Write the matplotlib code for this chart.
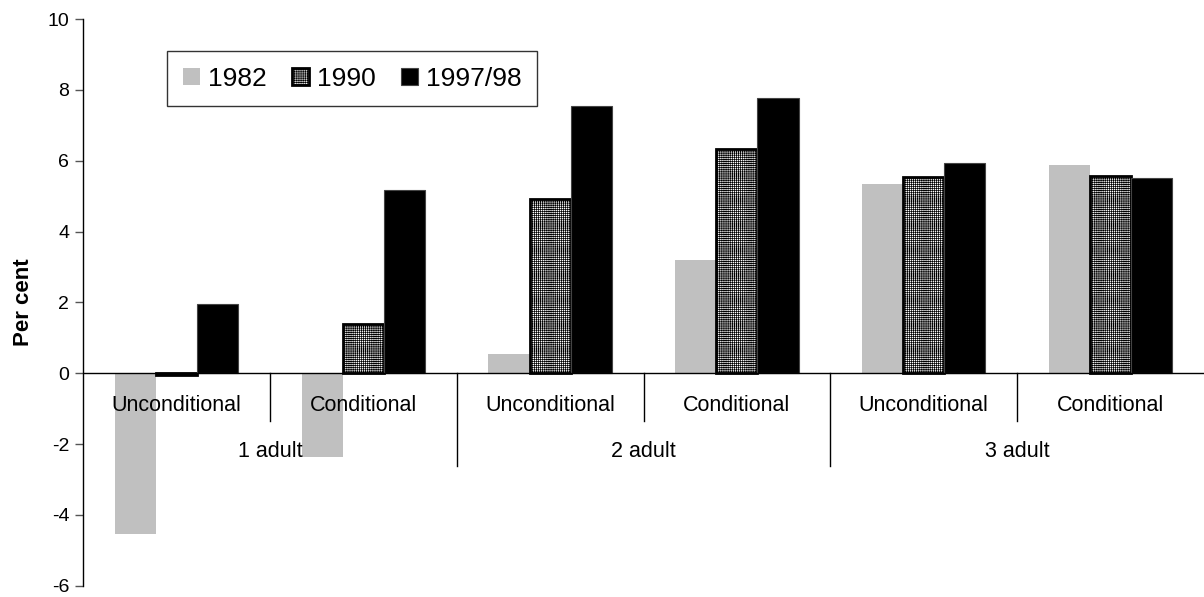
import numpy as np
import matplotlib
matplotlib.use("Agg")
import matplotlib.pyplot as plt

plt.rcParams["font.family"] = ["Liberation Sans", "DejaVu Sans"]
plt.rcParams["hatch.linewidth"] = 0.5
plt.rcParams["axes.unicode_minus"] = False

categories = ["Unconditional", "Conditional"] * 3
groups = ["1 adult", "2 adult", "3 adult"]
series = ["1982", "1990", "1997/98"]

vals_1982 = [-4.55, -2.38, 0.53, 3.20, 5.34, 5.87]
vals_1990 = [-0.05, 1.38, 4.93, 6.32, 5.54, 5.56]
vals_1997 = [1.96, 5.17, 7.55, 7.76, 5.94, 5.50]

fig = plt.figure(figsize=(12.04, 5.97), dpi=100)
ax = fig.add_axes([0.069, 0.019, 0.931, 0.949])

x = np.arange(len(categories))
w = 0.22

ax.bar(x - w, vals_1982, w, color="#c0c0c0", edgecolor="none", label=series[0])
# hatch lines keep their own thin width, edge is the thick outline
ax.bar(x, vals_1990, w, color="white", edgecolor="black", hatch="+" * 8,
       linewidth=2.0, label=series[1])
ax.bar(x + w, vals_1997, w, color="black", edgecolor="#444444",
       linewidth=0.8, label=series[2])

ax.set_xlim(-0.5, 5.5)
ax.set_ylim(-6, 10)
ax.set_yticks(np.arange(-6, 11, 2))
ax.tick_params(axis="y", labelsize=14, length=6, width=1, color="#555555",
               direction="out", pad=4)
ax.set_xticks([])
for side in ["top", "right", "bottom"]:
    ax.spines[side].set_visible(False)
ax.spines["left"].set_linewidth(1.0)
ax.axhline(0, color="black", linewidth=1.0, zorder=3)

ax.set_ylabel("Per cent", fontsize=16, fontweight="bold", labelpad=10)

# two-level category axis under the zero line
for xi, cat in zip(x, categories):
    ax.text(xi, -0.9, cat, ha="center", va="center", fontsize=15.5)
for gi, grp in enumerate(groups):
    ax.text(2 * gi + 0.5, -2.2, grp, ha="center", va="center", fontsize=15.5)
for b in np.arange(0.5, 5.0, 1.0):
    bottom = -2.61 if int(b + 0.5) % 2 == 0 else -1.35
    ax.plot([b, b], [0, bottom], color="black", linewidth=1.0, clip_on=False)

leg = ax.legend(loc="upper left", bbox_to_anchor=(0.075, 0.944), ncol=3,
                fontsize=19, frameon=True, fancybox=False, edgecolor="black",
                handlelength=0.65, handleheight=0.65, handletextpad=0.3,
                columnspacing=0.95, borderpad=0.6, borderaxespad=0)
leg.get_frame().set_linewidth(1.0)

fig.savefig("out.png", dpi=100)
